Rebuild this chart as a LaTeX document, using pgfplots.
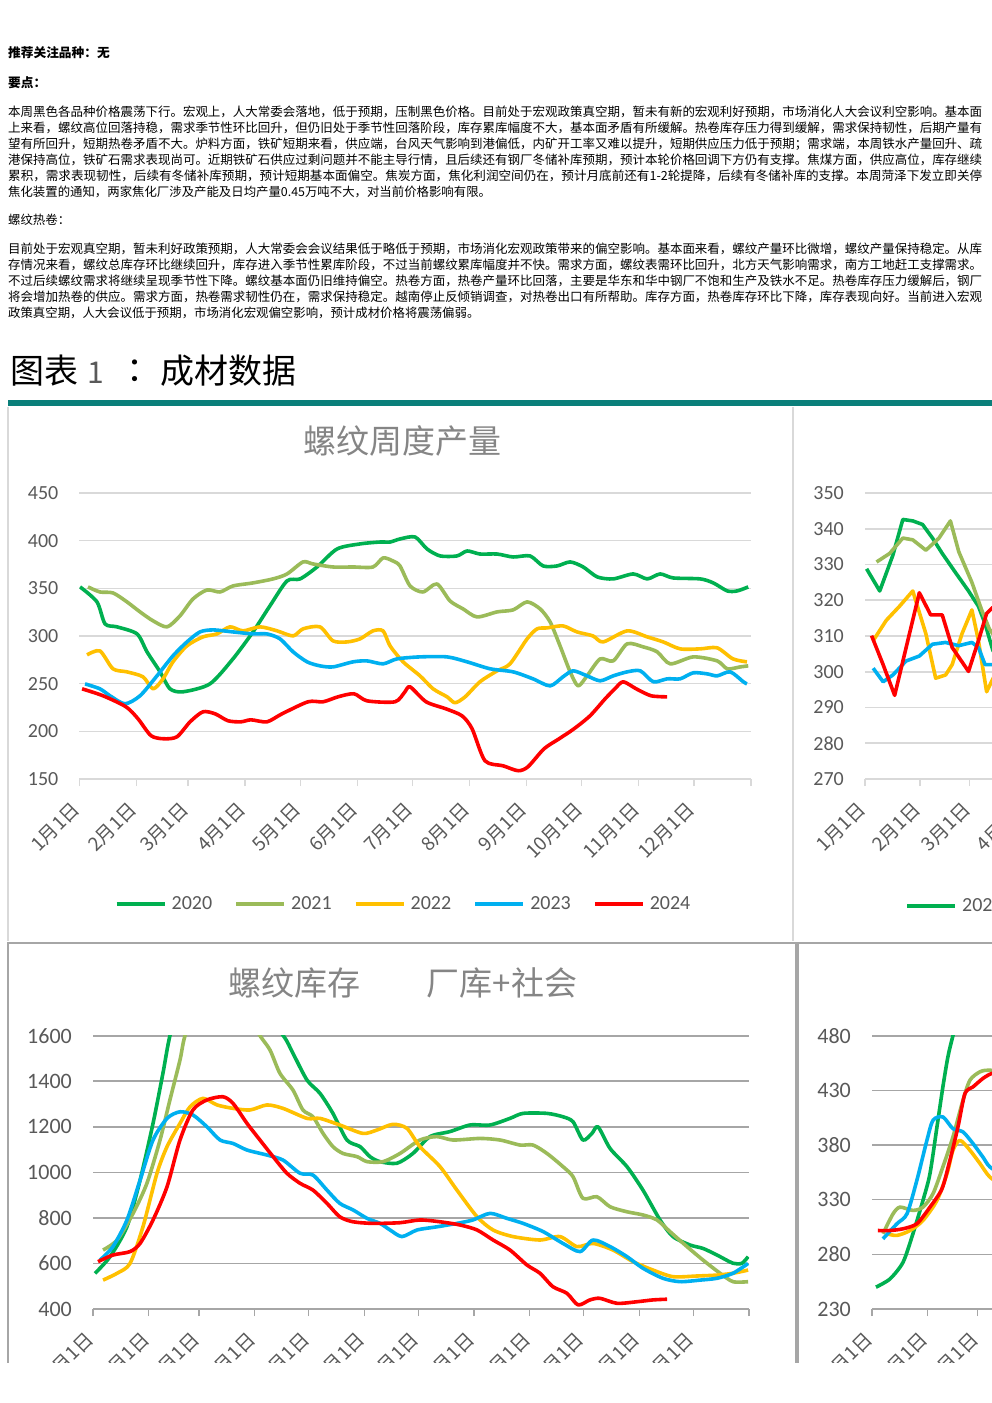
\documentclass[border=0pt]{standalone}
\usepackage{fontspec}
\usepackage{graphicx}
\usepackage{pgfplots}
\pgfplotsset{compat=1.18}
\setmainfont{Noto Sans CJK SC}
\newfontfamily\carlito{Carlito}
\definecolor{cA}{HTML}{00B050}
\definecolor{cB}{HTML}{9BBB59}
\definecolor{cC}{HTML}{FFC000}
\definecolor{cD}{HTML}{00B0F0}
\definecolor{cE}{HTML}{FF0000}
\definecolor{gridA}{HTML}{D9D9D9}
\definecolor{gridB}{HTML}{A6A6A6}
\definecolor{labgray}{HTML}{595959}
\definecolor{titgray}{HTML}{858585}
\definecolor{tealbar}{HTML}{0A7F7A}
\newcommand\bodyfont{\fontsize{12.4}{14}\selectfont}
\newcommand\fline[2]{\node[anchor=west,inner sep=0pt] at (8pt,-#1pt) {\resizebox{974pt}{!}{\bodyfont #2}};}
\newcommand\pline[2]{\node[anchor=west,inner sep=0pt] at (8pt,-#1pt) {\bodyfont #2};}
\pgfplotsset{
  refaxis/.style={
    scale only axis, clip=true,
    xmin=0, xmax=365,
    axis x line*=bottom, axis y line*=left,
    y axis line style={draw=none},
    ytick style={draw=none},
    xtick={0,31,59,90,120,151,181,212,243,273,304,334,365},
    xticklabels={1月1日,2月1日,3月1日,4月1日,5月1日,6月1日,7月1日,8月1日,9月1日,10月1日,11月1日,12月1日,},
    xtick align=outside, major tick length=7pt,
    ymajorgrids,
    tick label style={color=labgray},
    yticklabel style={font=\carlito\fontsize{20}{20}\selectfont, anchor=east, inner sep=0pt, xshift=-21pt},
    xticklabel style={font=\fontsize{19}{19}\selectfont, rotate=45, anchor=east, inner sep=0pt, yshift=-12pt, xshift=-16pt},
    /pgf/number format/assume math mode=true, /pgf/number format/1000 sep={},
    every axis plot/.append style={line width=3.6pt, no marks, line join=round},
    legend image code/.code={\draw[##1,line width=4pt] (0pt,0pt) -- (48pt,0pt);},
    legend style={draw=none, fill=none, inner sep=0pt, legend columns=5,
      font=\carlito\fontsize{20}{20}\selectfont, text=labgray,
      nodes={inner sep=0pt, anchor=west},
      /tikz/every odd column/.append style={column sep=5pt},
      /tikz/every even column/.append style={column sep=22pt}},
  },
  rightpart/.style={xtick={0,31,59,90,120}, xticklabels={1月1日,2月1日,3月1日,4月1日,}},
  topgrid/.style={grid style={draw=gridA, line width=1.6pt}, x axis line style={draw=gridA, line width=1.6pt}, xtick style={draw=gridA, line width=1.2pt}},
  botgrid/.style={grid style={draw=gridB, line width=1.6pt}, x axis line style={draw=gridB, line width=1.6pt}, xtick style={draw=gridB, line width=1.2pt},
    yticklabel style={font=\carlito\fontsize{22}{22}\selectfont}},
}
\begin{document}
\begin{tikzpicture}
\useasboundingbox (0,0) rectangle (992pt,-1403pt);
\fill[white] (0,0) rectangle (992pt,-1403pt);
% headings
\node[anchor=west,inner sep=0pt] at (8pt,-53pt) {\fontsize{12.7}{14}\selectfont\bfseries 推荐关注品种：无};
\node[anchor=west,inner sep=0pt] at (8pt,-83pt) {\fontsize{12.7}{14}\selectfont\bfseries 要点：};
\fline{112}{本周黑色各品种价格震荡下行。宏观上，人大常委会落地，低于预期，压制黑色价格。目前处于宏观政策真空期，暂未有新的宏观利好预期，市场消化人大会议利空影响。基本面}
\fline{128}{上来看，螺纹高位回落持稳，需求季节性环比回升，但仍旧处于季节性回落阶段，库存累库幅度不大，基本面矛盾有所缓解。热卷库存压力得到缓解，需求保持韧性，后期产量有}
\fline{144}{望有所回升，短期热卷矛盾不大。炉料方面，铁矿短期来看，供应端，台风天气影响到港偏低，内矿开工率又难以提升，短期供应压力低于预期；需求端，本周铁水产量回升、疏}
\fline{160}{港保持高位，铁矿石需求表现尚可。近期铁矿石供应过剩问题并不能主导行情，且后续还有钢厂冬储补库预期，预计本轮价格回调下方仍有支撑。焦煤方面，供应高位，库存继续}
\fline{176}{累积，需求表现韧性，后续有冬储补库预期，预计短期基本面偏空。焦炭方面，焦化利润空间仍在，预计月底前还有1-2轮提降，后续有冬储补库的支撑。本周菏泽下发立即关停}
\pline{192}{焦化装置的通知，两家焦化厂涉及产能及日均产量0.45万吨不大，对当前价格影响有限。}
\pline{220}{螺纹热卷：}
\fline{249}{目前处于宏观真空期，暂未利好政策预期，人大常委会会议结果低于略低于预期，市场消化宏观政策带来的偏空影响。基本面来看，螺纹产量环比微增，螺纹产量保持稳定。从库}
\fline{265}{存情况来看，螺纹总库存环比继续回升，库存进入季节性累库阶段，不过当前螺纹累库幅度并不快。需求方面，螺纹表需环比回升，北方天气影响需求，南方工地赶工支撑需求。}
\fline{281}{不过后续螺纹需求将继续呈现季节性下降。螺纹基本面仍旧维持偏空。热卷方面，热卷产量环比回落，主要是华东和华中钢厂不饱和生产及铁水不足。热卷库存压力缓解后，钢厂}
\fline{297}{将会增加热卷的供应。需求方面，热卷需求韧性仍在，需求保持稳定。越南停止反倾销调查，对热卷出口有所帮助。库存方面，热卷库存环比下降，库存表现向好。当前进入宏观}
\pline{313}{政策真空期，人大会议低于预期，市场消化宏观偏空影响，预计成材价格将震荡偏弱。}
% figure title
\node[anchor=west,inner sep=0pt] at (10pt,-371pt) {\fontsize{34}{36}\selectfont 图表};
\node[anchor=west,inner sep=0pt,text=black!65] at (87pt,-373pt) {\fontsize{30}{32}\selectfont 1};
\node[inner sep=0pt] at (143pt,-371pt) {\fontsize{34}{36}\selectfont ：};
\node[anchor=west,inner sep=0pt] at (160pt,-371pt) {\fontsize{34}{36}\selectfont 成材数据};
\fill[tealbar] (8pt,-400pt) rectangle (992pt,-406pt);
\begin{scope}
\clip (0,0) rectangle (992pt,-1362pt);
% panel borders
\draw[gridA, line width=1.2pt] (8pt,-407pt) -- (8pt,-941pt);
\draw[gridA, line width=1.2pt] (793pt,-407pt) -- (793pt,-941pt);
\draw[gridB, line width=2pt] (8pt,-1370pt) -- (8pt,-943pt) -- (796pt,-943pt) -- (796pt,-1370pt);
\draw[gridB, line width=2pt] (1000pt,-943pt) -- (798pt,-943pt) -- (798pt,-1370pt);
% titles
\node[text=titgray, inner sep=0pt] at (402pt,-441pt) {\fontsize{33}{35}\selectfont 螺纹周度产量};
\node[text=titgray, inner sep=0pt] at (294pt,-983pt) {\fontsize{33}{35}\selectfont 螺纹库存};
\node[text=titgray, inner sep=0pt] at (502pt,-983pt) {\fontsize{33}{35}\selectfont 厂库+社会};
% ---------- top left: rebar weekly output
\begin{axis}[refaxis, topgrid, at={(79.5pt,-779pt)}, anchor=south west,
  width=671.5pt, height=286pt, ymin=150, ymax=450, ytick={150,200,...,450},
  legend style={at={(0.481,-0.437)}, anchor=center},
  every axis plot/.append style={smooth, tension=0.45}]
\addplot[cA] coordinates {(0.3,351.5)(9.5,335.8)(13.9,312.7)(20.4,309.6)(31.3,302.2)(36.7,283.4)(43.8,262.4)(49.2,244.6)(56.3,241.5)(70.9,249.8)(83.4,276)(94.3,304.3)(103.5,331.6)(112.8,357.8)(119.9,359.9)(129.1,372.4)(140,391.3)(152.5,396.6)(163.4,398.6)(168.8,398.6)(174.2,401.8)(182.4,403.9)(188.9,391.3)(196,384)(205.2,384)(210.7,389.2)(217.7,386)(227,386)(235.7,382.9)(244.9,384)(252,373.5)(259.6,373.5)(266.7,377.7)(273.8,372.4)(281.4,362)(290.1,359.9)(301,365.1)(308.6,359.9)(315.6,365.1)(322.7,360.9)(337.4,359.9)(344.5,355.7)(352.1,347.3)(357.5,347.3)(363.5,351.5)};
\addplot[cB] coordinates {(4.6,351.5)(11.1,346.2)(18.2,345.2)(25.8,335.8)(32.9,325.3)(40,315.9)(47.6,309.6)(54.6,321.1)(61.7,338.9)(69.3,348.3)(76.4,346.2)(83.4,352.5)(94.3,355.7)(105.2,359.9)(112.8,365.1)(121.5,377.7)(126.9,375.6)(137.8,372.4)(148.7,372.4)(159.5,372.4)(165,381.9)(170.4,378.7)(174.2,373.5)(179.7,352.5)(186.7,346.2)(194.3,354.6)(201.4,336.8)(208.5,328.4)(216.1,320)(227,325.3)(235.7,327.4)(243.3,335.8)(250.4,328.4)(255.8,314.8)(261.2,289.7)(266.7,262.4)(271,247.7)(275.9,258.2)(283,276)(290.1,273.9)(297.7,291.8)(306.4,288.6)(314,283.4)(321.1,270.8)(333.6,278.1)(346.6,273.9)(352.1,265.6)(359.2,267.6)(363.5,268.7)};
\addplot[cC] coordinates {(4.1,280.2)(11.1,284.4)(18.2,265.6)(25.8,262.4)(34.5,257.2)(40,244.6)(45.4,255.1)(50.8,272.9)(58.4,289.7)(67.1,299.1)(74.7,302.2)(81.8,309.6)(88.9,305.4)(98.1,309.6)(107.4,305.4)(116.1,300.1)(121.5,307.5)(130.7,309.6)(137.8,294.9)(145.4,293.8)(152.5,297)(159.5,305.4)(165,305.4)(168.8,289.7)(175.9,272.9)(185.1,258.2)(192.2,244.6)(199.8,236.2)(204.1,230)(209.6,236.2)(217.7,252)(227,263.5)(234,270.8)(243.3,297)(248.7,307.5)(254.1,308.5)(262.8,310.6)(270.4,304.3)(279.1,300.1)(284.6,293.8)(297.7,305.4)(308.6,299.1)(317.3,293.8)(326.5,286.5)(337.4,286.5)(346.6,287.6)(355.2,276)(362.8,272.9)};
\addplot[cD] coordinates {(3,249.8)(11.1,244.6)(16.6,237.3)(24.7,228.9)(32.9,237.3)(42.1,258.2)(50.8,279.2)(58.4,293.8)(65.5,304.3)(72.6,306.4)(83.4,304.3)(94.3,302.2)(101.9,302.2)(109,297)(116.1,283.4)(123.7,272.9)(130.7,268.7)(137.8,267.6)(148.7,272.9)(156.3,273.9)(165,270.8)(172.6,276)(185.1,278.1)(199.8,278.1)(210.7,272.9)(223.2,265.6)(235.7,262.4)(246.5,255.1)(255.8,247.7)(262.8,257.2)(268.3,263.5)(275.9,258.2)(283,253)(290.1,258.2)(297.7,262.4)(304.8,263.5)(311.9,252)(319.5,255.1)(326.5,255.1)(333.6,261.4)(341.2,260.3)(346.6,258.2)(353.7,262.4)(360.8,252)(362.8,249.8)};
\addplot[cE] coordinates {(1.4,244.6)(12.8,237.3)(25.3,225.7)(31.8,213.2)(38.9,195.4)(45.9,192.2)(53,194.3)(60.1,210)(67.1,220.5)(73.7,218.4)(80.7,211.1)(87.8,210)(93.2,212.1)(101.9,210)(110.1,218.4)(124.2,231)(132.4,231)(140.5,236.2)(149.2,239.4)(156.3,232)(171.5,231)(176.9,241.5)(179.7,246.7)(188.4,231)(199.2,223.6)(207.9,216.3)(213.4,202.7)(220.4,169.1)(230.2,163.9)(238.4,158.7)(243.8,162.9)(252.5,181.7)(260.7,192.2)(268.8,202.7)(277.5,216.3)(285.7,234.1)(291,244.6)(295.5,252)(302.6,244.6)(310.7,237.3)(319.4,236.2)};
\legend{2020,2021,2022,2023,2024}
\end{axis}
% ---------- top right
\begin{axis}[refaxis, rightpart, topgrid, at={(865pt,-779pt)}, anchor=south west,
  width=648pt, height=286pt, ymin=270, ymax=350, ytick={270,280,...,350},
  legend style={at={(0.0617,-0.444)}, anchor=west}]
\addplot[cA] coordinates {(0.9,328.8)(8.3,322.6)(15.7,332.6)(21.3,342.6)(26.9,342.2)(32.4,341.2)(38,337.4)(43.5,333.1)(50.9,327.8)(58.3,322.6)(63.9,318.3)(67.6,313.5)(72,306)(80,300)};
\addplot[cB] coordinates {(6.5,330.7)(13.9,333.1)(21.3,337.4)(26.9,336.9)(34.3,334)(41.7,337.4)(48.1,342.2)(52.8,333.6)(60.2,325)(65.7,317.3)(70,312)(80,305)};
\addplot[cC] coordinates {(4.6,308.7)(12,314.4)(19.4,318.3)(26.9,322.6)(34.3,310.6)(39.8,298.2)(45.4,299.1)(49.1,302)(54.6,310.6)(60.2,317.3)(63.9,308.7)(68.5,294.4)(72,298)(80,305)};
\addplot[cD] coordinates {(4.6,301)(10.2,297.2)(15.7,299.1)(23.1,303)(30.6,304.4)(38,307.7)(45.4,308.2)(52.8,307.3)(60.2,308.2)(63.9,306.8)(67.6,302)(72,302)(80,304)};
\addplot[cE] coordinates {(3.7,310.1)(10.2,302)(16.7,293.4)(24.1,308.7)(30.6,322.1)(37,315.9)(43.5,315.9)(49.1,306.8)(58.3,300.1)(63.9,308.7)(68.5,316.3)(72,318)(80,315)};
\legend{2020}
\end{axis}
% ---------- bottom left: rebar inventory
\begin{axis}[refaxis, botgrid, at={(93pt,-1309pt)}, anchor=south west,
  width=656pt, height=273.3pt, ymin=400, ymax=1600, ytick={400,600,...,1600},
  every axis plot/.append style={smooth, tension=0.45}]
\addplot[cA] coordinates {(1.1,556.6)(9.5,630)(18.9,761.5)(26.2,966)(33.4,1215)(38.9,1434.6)(42.8,1600)(50,1800)(62,1900)(75,1880)(90,1750)(105.9,1600)(111.3,1522)(119.1,1405)(126.3,1347)(133.5,1259)(141.3,1142)(148.6,1113)(154.1,1069)(159.7,1047)(169.1,1040)(178,1083)(187.5,1157)(198.6,1179)(209.8,1208)(220.9,1208)(232,1237)(239.3,1259)(252.6,1259)(261.5,1244)(267.1,1222)(272.6,1142)(277.6,1171)(281,1200)(287.7,1105)(297.1,1025)(306,922)(315.5,791)(322.7,718)(332.2,681)(339.4,666)(347.2,637)(356.1,601)(361.1,601)(364.5,630)};
\addplot[cB] coordinates {(5.6,659)(13.4,703)(22.3,820)(30,952)(37.3,1142)(42.8,1318)(48.4,1493)(51.2,1600)(60,1800)(72,1850)(85,1700)(92.9,1600)(98.5,1537)(104,1435)(111.3,1361)(116.8,1274)(122.4,1244)(128,1171)(133.5,1113)(139.1,1083)(146.9,1069)(152.5,1047)(161.4,1047)(170.8,1083)(181.9,1142)(191.4,1157)(200.3,1142)(215.3,1149)(226.5,1142)(237.6,1120)(244.8,1120)(252.6,1083)(261.5,1025)(267.1,981)(272.6,886)(280.4,893)(287.7,849)(297.1,827)(306,813)(313.8,791)(321,740)(330.5,674)(339.4,615)(348.9,557)(356.1,520)(364.5,520)};
\addplot[cC] coordinates {(5.6,527)(13.4,557)(20.6,600)(27.8,761)(35.6,996)(41.2,1113)(48.4,1215)(54,1288)(61.2,1325)(69,1296)(77.9,1281)(87.4,1274)(96.8,1296)(105.7,1281)(119.1,1237)(126.3,1237)(137.3,1208)(150.2,1171)(158,1186)(166.9,1211)(174.7,1193)(181.9,1113)(193.1,1025)(202.5,922)(213.7,805)(222.6,747)(233.7,718)(248.7,703)(259.8,718)(269.3,674)(278.2,688)(289.3,659)(300.5,608)(311.6,571)(322.7,542)(336.1,545)(347.2,549)(356.1,557)(364.5,571)};
\addplot[cD] coordinates {(3.9,615)(11.1,674)(18.9,791)(26.2,966)(33.4,1142)(41.2,1237)(48.4,1266)(55.6,1252)(63.4,1200)(70.7,1142)(77.9,1127)(85.7,1098)(96.8,1076)(105.7,1054)(115.2,996)(122.4,988)(130.2,922)(137.3,864)(144.7,835)(152.5,798)(159.7,776)(165.3,747)(171.9,718)(180.3,747)(191.4,761)(202.5,776)(211.4,791)(220.9,820)(230.3,798)(239.3,776)(250.4,740)(261.5,688)(271,652)(278.2,703)(287.7,674)(297.1,630)(306,579)(317.1,535)(326.6,520)(337.8,527)(347.2,535)(356.1,557)(364.5,600)};
\addplot[cE] coordinates {(2.8,608)(11.1,637)(20.6,652)(26.2,688)(33.4,791)(41.2,937)(48.4,1142)(55.6,1274)(63.4,1318)(72.3,1332)(77.9,1303)(85.7,1215)(92.9,1142)(100.2,1069)(107.9,996)(115.2,952)(122.4,922)(130.2,864)(137.3,805)(144.7,783)(155.8,776)(170.8,779)(181.9,791)(193.1,783)(204.2,769)(213.7,747)(222.6,703)(232,659)(241.5,593)(248.7,557)(255.9,498)(263.7,469)(269.9,418)(276.5,440)(282.1,447)(291.6,425)(302.7,432)(311.6,440)(319.4,443)};
\end{axis}
% ---------- bottom right
\begin{axis}[refaxis, rightpart, botgrid, at={(872pt,-1309pt)}, anchor=south west,
  width=655pt, height=273.3pt, ymin=230, ymax=480, ytick={230,280,...,480},
  every axis plot/.append style={smooth, tension=0.45}]
\addplot[cA] coordinates {(2.2,250)(10,257.5)(17.3,272.8)(22.8,298.8)(28.4,329.3)(32.3,353.8)(36.2,396.6)(39.5,433.2)(42.3,460.7)(45.1,480)(50,510)};
\addplot[cB] coordinates {(6.1,298.8)(11.7,317)(15.6,323.2)(22.8,320.2)(28.4,323.2)(34,335.5)(39.5,360)(45.1,387.4)(50.7,421)(54.6,439.4)(60.2,447)(65.7,448.5)(75,445)};
\addplot[cC] coordinates {(8.4,298.8)(13.9,297.3)(21.2,301.8)(28.4,311)(36.2,329.3)(41.8,353.8)(45.1,375.2)(49,384.3)(54.6,375.2)(60.2,363)(65.7,350.7)(75,340)};
\addplot[cD] coordinates {(6.1,294.2)(13.9,308)(19.5,317.1)(25,347.7)(30.6,384.3)(34,402.7)(39.5,405.7)(45.1,395)(50.7,392)(56.3,381.3)(61.8,369)(65.7,360)(75,350)};
\addplot[cE] coordinates {(3.3,301.8)(10,301.8)(17.3,303.4)(25,308)(32.3,323.2)(39,340)(43.4,366)(47.9,396.6)(51.8,427.1)(56.3,433.2)(61.8,440.9)(66.8,445.5)(75,448)};
\end{axis}
\end{scope}
\end{tikzpicture}
\end{document}
